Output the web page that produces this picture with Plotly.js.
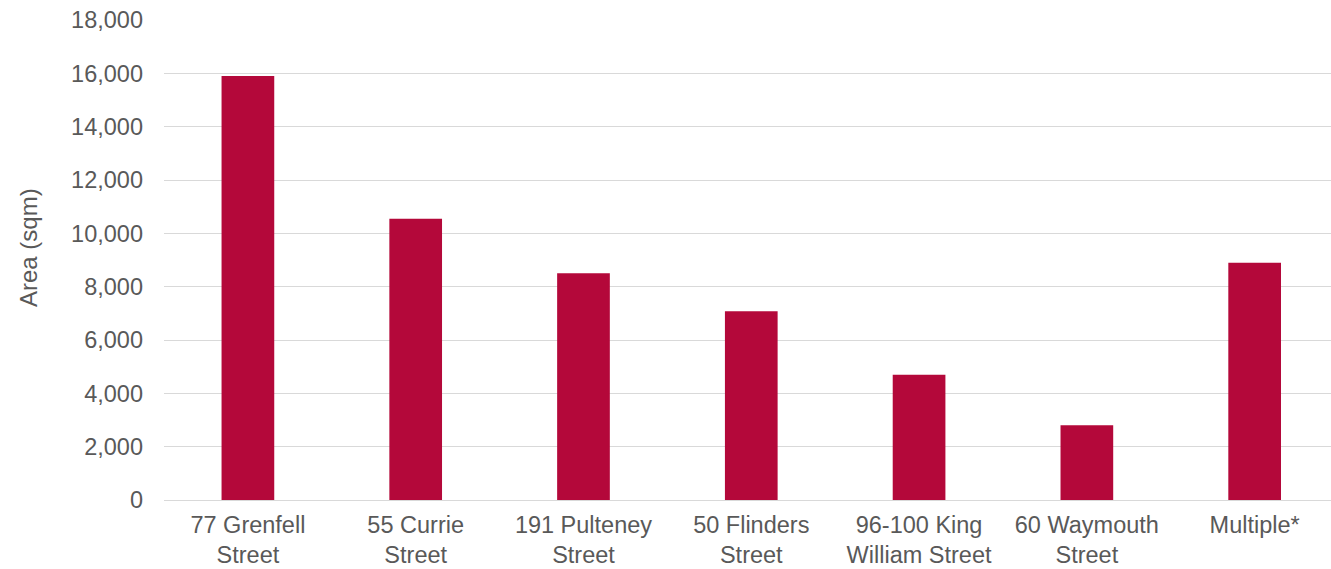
<!DOCTYPE html>
<html>
<head>
<meta charset="utf-8">
<script src="https://cdn.plot.ly/plotly-3.0.1.min.js"></script>
<style>html,body{margin:0;padding:0;background:#fff;}#chart{width:1331px;height:569px;}</style>
</head>
<body>
<div id="chart"></div>
<script>
const categories = ["77 Grenfell<br>Street", "55 Currie<br>Street", "191 Pulteney<br>Street", "50 Flinders<br>Street", "96-100 King<br>William Street", "60 Waymouth<br>Street", "Multiple*"];
const areaValues = [15900, 10550, 8500, 7080, 4700, 2800, 8900];
const yTickValues = [0, 2000, 4000, 6000, 8000, 10000, 12000, 14000, 16000, 18000];
const yAxisTitle = "Area (sqm)";

const textColor = "#595959";
const fontFamily = "Liberation Sans, Arial, sans-serif";

const data = [{
  type: "bar",
  x: categories,
  y: areaValues,
  marker: {color: "#B4083A"},
  width: 0.314,
  hoverinfo: "x+y"
}];

const layout = {
  width: 1331,
  height: 569,
  margin: {l: 164, r: 0, t: 20, b: 69},
  paper_bgcolor: "#ffffff",
  plot_bgcolor: "#ffffff",
  showlegend: false,
  font: {family: fontFamily, color: textColor, size: 24},
  xaxis: {
    type: "category",
    range: [-0.5, 6.455],
    showgrid: false,
    showline: false,
    zeroline: false,
    ticks: "",
    tickfont: {family: fontFamily, color: textColor, size: 23.5},
    ticklabelstandoff: 8,
    fixedrange: true
  },
  yaxis: {
    range: [0, 18000],
    tickvals: yTickValues,
    tickformat: ",d",
    showgrid: true,
    gridcolor: "#d9d9d9",
    gridwidth: 1,
    zeroline: true,
    zerolinecolor: "#d9d9d9",
    zerolinewidth: 1,
    showline: false,
    ticks: "",
    tickfont: {family: fontFamily, color: textColor, size: 23.5},
    ticklabelstandoff: 20,
    fixedrange: true
  },
  annotations: [{
    text: yAxisTitle,
    xref: "paper", yref: "paper",
    x: 0, y: 0.525,
    xanchor: "center", yanchor: "middle",
    xshift: -136,
    textangle: -90,
    showarrow: false,
    font: {family: fontFamily, color: textColor, size: 24}
  }]
};

Plotly.newPlot("chart", data, layout, {displayModeBar: false, staticPlot: true});
</script>
</body>
</html>
